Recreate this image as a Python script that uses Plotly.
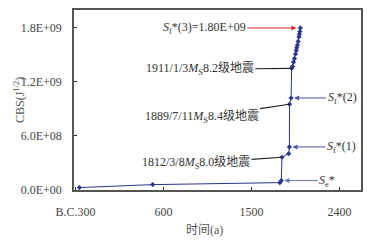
import plotly.graph_objects as go

# Data: cumulative Benioff strain (CBS) vs time
years = [-260, 490, 1790, 1805, 1812, 1880, 1888, 1889, 1905, 1911,
         1920, 1930, 1940, 1950, 1958, 1963, 1970, 1977, 1985, 1990, 1995, 2000]
cbs = [2.2e7, 5.5e7, 7.7e7, 1.0e8, 3.6e8, 4.0e8, 4.75e8, 9.5e8, 1.02e9, 1.35e9,
       1.37e9, 1.42e9, 1.46e9, 1.51e9, 1.55e9, 1.58e9, 1.61e9, 1.65e9, 1.70e9, 1.73e9, 1.76e9, 1.80e9]

xtick_vals = [-300, 600, 1500, 2400]
xtick_text = ["B.C.300", "600", "1500", "2400"]
ytick_vals = [0, 6e8, 1.2e9, 1.8e9]
ytick_text = ["0.0E+00", "6.0E+08", "1.2E+09", "1.8E+09"]

NAVY = "#2a3590"
FONT = "Liberation Serif, Times New Roman, Noto Sans CJK SC, serif"

fig = go.Figure()
fig.add_trace(go.Scatter(
    x=years, y=cbs, mode="lines+markers",
    line=dict(color=NAVY, width=1),
    marker=dict(symbol="diamond", size=4, color=NAVY),
    showlegend=False, hoverinfo="skip"))

def idx(y):
    return years.index(y)

anns = []
# S_f*(3) red arrow
i = len(years) - 1
anns.append(dict(x=years[i], y=cbs[i], ax=-96, ay=0,
                 text="<i>S</i><sub>f</sub>*(3)=1.80E+09",
                 showarrow=True, arrowhead=2, arrowsize=1, arrowwidth=1,
                 arrowcolor="#e3262b", standoff=4))
# Earthquake labels (black leader lines)
i = idx(1911)
anns.append(dict(x=years[i], y=cbs[i], ax=-92, ay=1,
                 text="1911/1/3<i>M</i><sub>S</sub>8.2级地震",
                 showarrow=True, arrowhead=0, arrowwidth=1.2, arrowcolor="#222", standoff=0))
i = idx(1889)
anns.append(dict(x=years[i], y=cbs[i], ax=-88, ay=13,
                 text="1889/7/11<i>M</i><sub>S</sub>8.4级地震",
                 showarrow=True, arrowhead=0, arrowwidth=1.2, arrowcolor="#222", standoff=0))
i = idx(1812)
anns.append(dict(x=years[i], y=cbs[i], ax=-86, ay=6,
                 text="1812/3/8<i>M</i><sub>S</sub>8.0级地震",
                 showarrow=True, arrowhead=0, arrowwidth=1.2, arrowcolor="#222", standoff=0))
# S_f*(2), S_f*(1), S_e* blue arrows
i = idx(1905)
anns.append(dict(x=years[i], y=cbs[i], ax=51, ay=0,
                 text="<i>S</i><sub>f</sub>*(2)",
                 showarrow=True, arrowhead=2, arrowsize=1, arrowwidth=1,
                 arrowcolor="#4a56a6", standoff=3))
i = idx(1888)
anns.append(dict(x=years[i], y=cbs[i], ax=52, ay=0,
                 text="<i>S</i><sub>f</sub>*(1)",
                 showarrow=True, arrowhead=2, arrowsize=1, arrowwidth=1,
                 arrowcolor="#4a56a6", standoff=3))
i = idx(1805)
anns.append(dict(x=years[i], y=cbs[i], ax=46, ay=0,
                 text="<i>S</i><sub>e</sub>*",
                 showarrow=True, arrowhead=2, arrowsize=1, arrowwidth=1,
                 arrowcolor="#6a74b0", standoff=3))
for a in anns:
    a.update(xref="x", yref="y", axref="pixel", ayref="pixel",
             font=dict(family=FONT, size=12, color="#333"))

# axis titles
anns.append(dict(xref="paper", yref="paper", x=0.455, y=-0.22, yanchor="middle",
                 showarrow=False,
                 text="时间(a)", font=dict(family=FONT, size=12, color="#555")))
anns.append(dict(xref="paper", yref="paper", x=-0.225, y=0.5, showarrow=False,
                 textangle=-90, text="CBS(J<sup>1/2</sup>)",
                 font=dict(family=FONT, size=12, color="#555")))

fig.update_layout(
    width=376, height=243,
    margin=dict(l=74, r=15, t=8, b=53),
    paper_bgcolor="white", plot_bgcolor="white",
    annotations=anns,
    font=dict(family=FONT, size=12, color="#333"),
)
fig.update_xaxes(range=[-315, 2620], tickvals=xtick_vals, ticktext=xtick_text,
                 ticks="inside", ticklen=3, tickcolor="#333",
                 showline=True, linecolor="#555", linewidth=1.5, mirror=True,
                 showgrid=False, zeroline=False, ticklabelstandoff=10,
                 tickfont=dict(family=FONT, size=12, color="#444"))
fig.update_yaxes(range=[-5e6, 2.0e9], tickvals=ytick_vals, ticktext=ytick_text,
                 ticks="inside", ticklen=3, tickcolor="#333",
                 showline=True, linecolor="#555", linewidth=1.5, mirror=True,
                 showgrid=False, zeroline=False, ticklabelstandoff=8,
                 tickfont=dict(family=FONT, size=12, color="#444"))

fig.write_html("out.html", config={"displayModeBar": False},
               post_script="document.body.style.margin='0';document.body.style.overflow='hidden';")
